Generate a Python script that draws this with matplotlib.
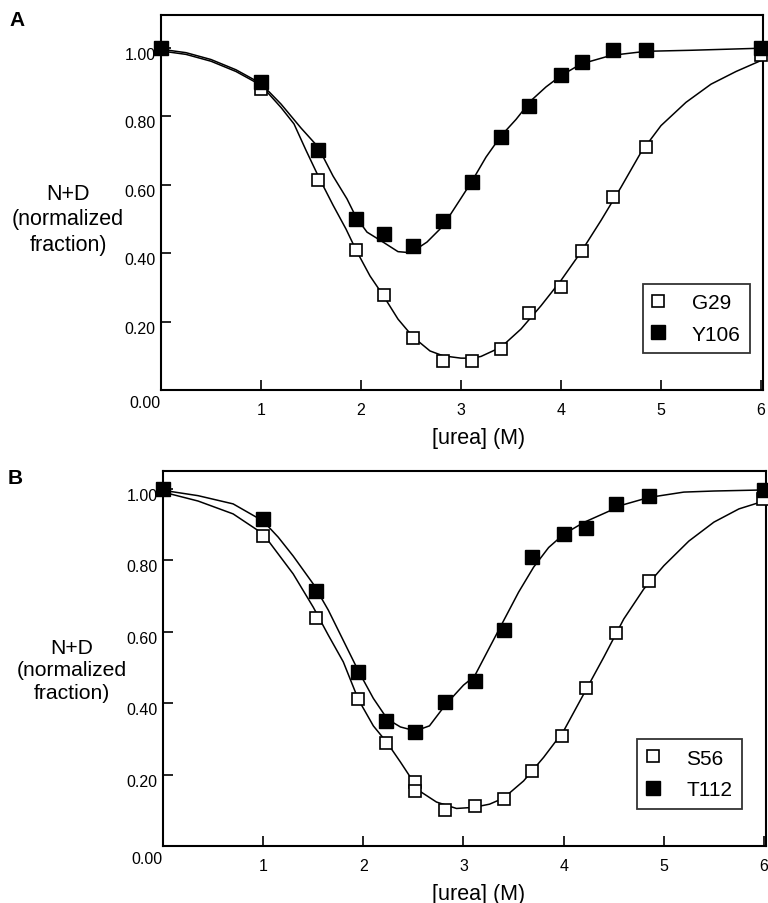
import numpy as np
import matplotlib
matplotlib.use("Agg")
import matplotlib.pyplot as plt
from matplotlib.transforms import ScaledTranslation

plt.rcParams['font.family'] = ['Liberation Sans', 'DejaVu Sans']

# ---- panel A: measured points ----
a_x = [0, 1.0, 1.57, 1.95, 2.23, 2.52, 2.82, 3.11, 3.40, 3.68, 4.0, 4.21, 4.52, 4.85, 6.0]
a_g29 = [1.0, 0.88, 0.613, 0.409, 0.277, 0.152, 0.084, 0.086, 0.12, 0.224, 0.302, 0.405, 0.564, 0.711, 0.978]
a_y106 = [1.0, 0.90, 0.70, 0.50, 0.455, 0.42, 0.494, 0.607, 0.739, 0.829, 0.92, 0.957, 0.993, 0.993, 1.0]

# panel A: fitted curves
a_y106_fit_x = [0, 0.25, 0.5, 0.75, 1.0, 1.2, 1.4, 1.57, 1.72, 1.86, 1.95, 2.06, 2.22, 2.37,
                2.45, 2.52, 2.66, 2.79, 2.9, 3.0, 3.11, 3.25, 3.4, 3.55, 3.7, 3.85, 4.0, 4.2,
                4.5, 4.85, 5.3, 6.0]
a_y106_fit = [0.995, 0.985, 0.965, 0.935, 0.895, 0.835, 0.765, 0.71, 0.625, 0.558, 0.505, 0.461,
              0.432, 0.404, 0.402, 0.405, 0.432, 0.47, 0.515, 0.56, 0.61, 0.68, 0.742, 0.79, 0.845,
              0.885, 0.918, 0.952, 0.977, 0.989, 0.992, 0.998]
a_g29_fit_x = [0, 0.25, 0.5, 0.75, 1.0, 1.2, 1.33, 1.45, 1.58, 1.72, 1.85, 1.95, 2.09, 2.22,
               2.37, 2.52, 2.69, 2.82, 2.92, 3.0, 3.11, 3.2, 3.4, 3.6, 3.8, 4.0, 4.2, 4.4, 4.6,
               4.8, 5.0, 5.25, 5.5, 5.75, 6.0]
a_g29_fit = [0.99, 0.98, 0.96, 0.93, 0.89, 0.825, 0.777, 0.70, 0.62, 0.54, 0.47, 0.409, 0.333,
             0.277, 0.207, 0.155, 0.114, 0.10, 0.096, 0.093, 0.093, 0.098, 0.125, 0.178, 0.246,
             0.32, 0.403, 0.495, 0.592, 0.694, 0.772, 0.84, 0.893, 0.93, 0.962]

# ---- panel B: measured points ----
b_x = [0, 1.0, 1.53, 1.95, 2.23, 2.52, 2.82, 3.11, 3.40, 3.68, 4.0, 4.22, 4.52, 4.85, 6.0]
b_t112 = [1.0, 0.915, 0.713, 0.487, 0.35, 0.319, 0.403, 0.462, 0.604, 0.808, 0.873, 0.89, 0.957, 0.98, 0.996]
b_s56_x = [0, 1.0, 1.53, 1.95, 2.23, 2.52, 2.52, 2.82, 3.11, 3.40, 3.68, 3.98, 4.22, 4.52, 4.85, 5.99]
b_s56 = [1.0, 0.868, 0.637, 0.41, 0.288, 0.18, 0.155, 0.10, 0.113, 0.131, 0.21, 0.308, 0.441, 0.595, 0.741, 0.97]

b_t112_fit_x = [0, 0.35, 0.7, 1.0, 1.15, 1.3, 1.5, 1.65, 1.8, 1.95, 2.1, 2.24, 2.37, 2.52, 2.66,
                2.82, 3.0, 3.11, 3.25, 3.4, 3.55, 3.7, 3.85, 4.0, 4.2, 4.4, 4.6, 4.85, 5.2, 5.5, 6.0]
b_t112_fit = [0.995, 0.98, 0.957, 0.909, 0.864, 0.811, 0.733, 0.66, 0.575, 0.49, 0.413, 0.355,
              0.333, 0.322, 0.336, 0.395, 0.45, 0.475, 0.55, 0.63, 0.71, 0.78, 0.835, 0.872, 0.905,
              0.93, 0.955, 0.975, 0.99, 0.993, 0.996]
b_s56_fit_x = [0, 0.35, 0.7, 1.0, 1.15, 1.3, 1.5, 1.65, 1.8, 1.95, 2.1, 2.24, 2.37, 2.56, 2.73,
               2.93, 3.1, 3.26, 3.4, 3.6, 3.8, 4.0, 4.2, 4.4, 4.6, 4.8, 5.0, 5.25, 5.5, 5.75, 6.0]
b_s56_fit = [0.99, 0.965, 0.929, 0.873, 0.817, 0.761, 0.668, 0.59, 0.515, 0.41, 0.336, 0.288,
             0.235, 0.154, 0.123, 0.105, 0.108, 0.117, 0.134, 0.182, 0.248, 0.322, 0.425, 0.528,
             0.635, 0.719, 0.784, 0.853, 0.906, 0.943, 0.965]

y_ticks = [0.2, 0.4, 0.6, 0.8, 1.0]
x_ticks = [1, 2, 3, 4, 5, 6]

fig = plt.figure(figsize=(7.68, 9.04), dpi=100)
axA = fig.add_axes([161/768, 1-391/904, 602/768, 375/904])
axB = fig.add_axes([163/768, 1-847/904, 603/768, 375/904])


def draw_panel(ax, x_open, y_open, x_fill, y_fill, fo_x, fo_y, ff_x, ff_y,
               lab_open, lab_fill, ytop, leg_xy):
    ax.plot(fo_x, fo_y, color='black', lw=1.1, zorder=2)
    ax.plot(ff_x, ff_y, color='black', lw=1.1, zorder=2)
    ax.plot(x_open, y_open, 's', ms=9, mfc='white', mec='black', mew=1.2,
            ls='none', clip_on=False, zorder=3, label=lab_open)
    ax.plot(x_fill, y_fill, 's', ms=9.5, mfc='black', mec='black',
            ls='none', clip_on=False, zorder=4, label=lab_fill)
    ax.set_xlim(0, 6.02)
    ax.set_ylim(0, ytop)
    ax.set_xticks(x_ticks)
    ax.set_xticklabels([str(v) for v in x_ticks])
    ax.set_yticks(y_ticks)
    ax.set_yticklabels(['%.2f' % v for v in y_ticks])
    ax.tick_params(direction='in', length=7, width=1.2, labelsize=11.5)
    ax.tick_params(axis='x', pad=9)
    ax.tick_params(axis='y', pad=4)
    for s in ax.spines.values():
        s.set_linewidth(1.5)
    off = ScaledTranslation(0, -5/100, fig.dpi_scale_trans)
    for t in ax.get_yticklabels():
        t.set_transform(t.get_transform() + off)
    ax.text(0.0, -0.033, '0.00', transform=ax.transAxes, ha='right', va='center', fontsize=11.5)
    ax.set_xlabel('[urea] (M)', fontsize=15.5)
    leg = ax.legend(loc='upper left', bbox_to_anchor=leg_xy, frameon=True, fancybox=False,
                    edgecolor='black', fontsize=15, handlelength=0.6, handletextpad=1.3,
                    borderpad=0.46, labelspacing=0.59, borderaxespad=0, markerscale=1.0)
    leg.get_frame().set_linewidth(1.3)


draw_panel(axA, a_x, a_g29, a_x, a_y106, a_g29_fit_x, a_g29_fit, a_y106_fit_x, a_y106_fit,
           'G29', 'Y106', 1.095, (0.80, 0.283))
draw_panel(axB, b_s56_x, b_s56, b_x, b_t112, b_s56_fit_x, b_s56_fit, b_t112_fit_x, b_t112_fit,
           'S56', 'T112', 1.049, (0.786, 0.285))
axA.xaxis.set_label_coords(0.528, -0.10)
axB.xaxis.set_label_coords(0.524, -0.10)

ylab = 'N+D\n(normalized\nfraction)'
fig.text(68/768, 1-220/904, ylab, ha='center', va='center', fontsize=15.5, linespacing=1.25)
fig.text(72/768, 1-671/904, ylab, ha='center', va='center', fontsize=15.2, linespacing=1.25)
fig.text(17/768, 1-21/904, 'A', ha='center', va='center', fontsize=15, fontweight='bold')
fig.text(15/768, 1-479/904, 'B', ha='center', va='center', fontsize=15, fontweight='bold')

fig.savefig('out.png', dpi=100)
